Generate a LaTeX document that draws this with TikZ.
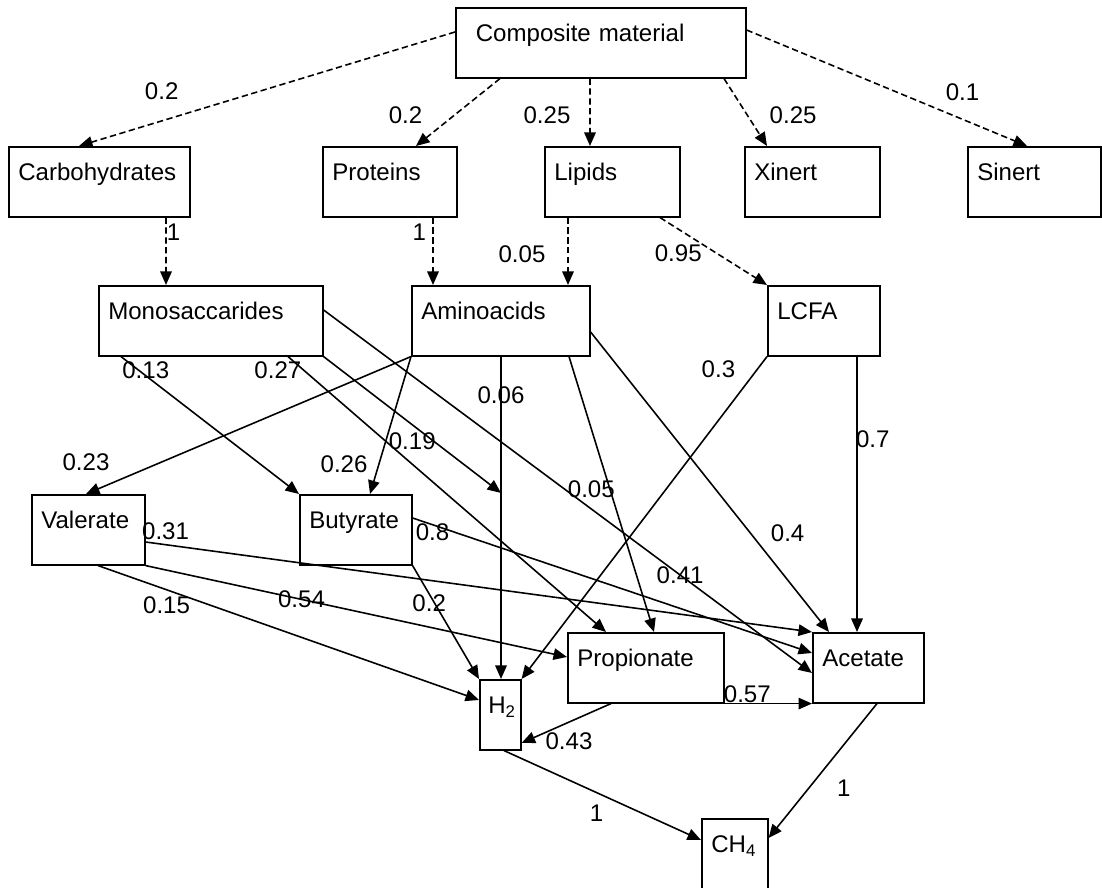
\documentclass[tikz,border=0pt]{standalone}
\usepackage{fontspec}
\setmainfont{Liberation Sans}
\usetikzlibrary{arrows.meta}

\begin{document}
\begin{tikzpicture}[
	every node/.style={font=\fontsize{13.7}{16}\selectfont},
	blk/.style={draw, rectangle, anchor=north west, text width=#1, align=left, inner xsep=0.19cm, inner ysep=0pt, text height=0.68cm, text depth=0.72cm, line width=0.9pt},
	arr/.style={line width=0.9pt, -{Triangle[length=0.27cm, width=0.23cm]}},
	dsh/.style={arr, dash pattern=on 3.6pt off 2pt},
	lbl/.style={inner sep=1pt}]
	\useasboundingbox (0,0) rectangle (22.04,-17.76);
	
	\node[blk=5.0cm, inner xsep=0.4cm, xshift=9.10cm, yshift=-0.14cm] (comp) {Composite material};
	
	\node[blk=3.24cm, xshift=0.16cm, yshift=-2.92cm] (carb) {Carbohydrates};
	\node[blk=2.30cm, xshift=6.44cm, yshift=-2.92cm] (prot) {Proteins};
	\node[blk=2.32cm, xshift=10.88cm, yshift=-2.92cm] (lip) {Lipids};
	\node[blk=2.32cm, xshift=14.88cm, yshift=-2.92cm] (xin) {Xinert};
	\node[blk=2.28cm, xshift=19.34cm, yshift=-2.92cm] (sin) {Sinert};
	
	\node[blk=4.10cm, xshift=1.96cm, yshift=-5.70cm] (mono) {Monosaccarides};
	\node[blk=3.18cm, xshift=8.22cm, yshift=-5.70cm] (amino) {Aminoacids};
	\node[blk=1.86cm, xshift=15.34cm, yshift=-5.70cm] (lcfa) {LCFA};
	
	\node[blk=1.88cm, xshift=0.62cm, yshift=-9.88cm] (val) {Valerate};
	\node[blk=1.86cm, xshift=5.98cm, yshift=-9.88cm] (buty) {Butyrate};
	
	\node[blk=2.74cm, xshift=11.34cm, yshift=-12.64cm] (prop) {Propionate};
	\node[blk=1.84cm, xshift=16.24cm, yshift=-12.64cm] (acet) {Acetate};
	\node[blk=0.48cm, inner xsep=0.17cm, xshift=9.58cm, yshift=-13.58cm] (h2) {H\textsubscript{2}};
	\node[blk=0.94cm, xshift=14.02cm, yshift=-16.36cm] (ch4) {CH\textsubscript{4}};
	
	% disintegration
	\draw[dsh] ([yshift=-0.5cm]comp.north west) -- node[lbl, pos=0.78, above=0.38cm] {0.2} ([xshift=1.42cm]carb.north west);
	\draw[dsh] ([xshift=0.9cm]comp.south west) -- node[lbl, pos=0.55, left=0.58cm] {0.2} ([xshift=1.88cm]prot.north west);
	\draw[dsh] ([xshift=2.7cm]comp.south west) -- node[lbl, pos=0.55, left=0.34cm] {0.25} ([xshift=0.92cm]lip.north west);
	\draw[dsh] ([xshift=5.38cm]comp.south west) -- node[lbl, pos=0.55, right=0.39cm] {0.25} ([xshift=0.46cm]xin.north west);
	\draw[dsh] ([yshift=-0.46cm]comp.north east) -- node[lbl, pos=0.77, above=0.33cm] {0.1} ([xshift=1.2cm]sin.north west);
	
	% hydrolysis
	\draw[dsh] ([xshift=3.16cm]carb.south west) -- node[lbl, pos=0.22, right=-1pt] {1} ([xshift=1.36cm]mono.north west);
	\draw[dsh] ([xshift=2.22cm]prot.south west) -- node[lbl, pos=0.22, left=2.5pt] {1} ([xshift=0.44cm]amino.north west);
	\draw[dsh] ([xshift=0.48cm]lip.south west) -- node[lbl, pos=0.54, left=0.4cm] {0.05} ([xshift=3.14cm]amino.north west);
	\draw[dsh] ([xshift=2.32cm]lip.south west) -- node[lbl, pos=0.53, left=0.25cm] {0.95} (lcfa.north west);
	
	% acidogenesis
	\draw[arr] ([xshift=0.46cm]mono.south west) -- node[lbl, pos=0.1, right=-0.38cm] {0.13} (buty.north west);
	\draw[arr] ([xshift=3.8cm]mono.south west) -- node[lbl, pos=0.05, left=0pt] {0.27} ([xshift=0.78cm]prop.north west);
	\draw[arr] ([xshift=1.8cm]amino.south west) -- coordinate[pos=0.423] (hjoin) node[lbl, pos=0.12] {0.06} ([xshift=0.44cm]h2.north west);
	\draw[arr] (mono.south east) -- node[lbl, pos=0.5, below=0.1cm] {0.19} (hjoin);
	\draw[arr] ([yshift=-0.5cm]mono.north east) -- node[lbl, pos=0.73] {0.41} ([yshift=-0.82cm]acet.north west);
	\draw[arr] (amino.south west) -- node[lbl, pos=1, above=0.42cm] {0.23} ([xshift=1.1cm]val.north west);
	\draw[arr] (amino.south west) -- node[lbl, pos=0.78, left=0.18cm] {0.26} ([xshift=1.42cm]buty.north west);
	\draw[arr] ([xshift=3.16cm]amino.south west) -- node[lbl, pos=0.48, left=-0.15cm] {0.05} ([xshift=1.74cm]prop.north west);
	\draw[arr] ([yshift=-0.94cm]amino.north east) -- node[lbl, pos=0.67, right=0.36cm] {0.4} ([xshift=0.34cm]acet.north west);
	\draw[arr] (lcfa.south west) -- node[lbl, pos=0.04, left=0.39cm] {0.3} (h2.north east);
	\draw[arr] ([xshift=1.8cm]lcfa.south west) -- node[lbl, pos=0.3, right=-2pt] {0.7} ([xshift=0.9cm]acet.north west);
	
	% acetogenesis
	\draw[arr] ([yshift=-0.96cm]val.north east) -- node[lbl, pos=0.03, above=0.05cm] {0.31} (acet.north west);
	\draw[arr] (val.south east) -- node[lbl, pos=0.37] {0.54} ([yshift=-0.5cm]prop.north west);
	\draw[arr] ([xshift=1.34cm]val.south west) -- node[lbl, pos=0.18, below=0.08cm] {0.15} ([yshift=-0.42cm]h2.north west);
	\draw[arr] ([yshift=-0.48cm]buty.north east) -- node[lbl, pos=0.05, below=-0.08cm] {0.8} ([yshift=-0.42cm]acet.north west);
	\draw[arr] (buty.south east) -- node[lbl, pos=0.33, left=-0.28cm] {0.2} (h2.north west);
	\draw[arr] ([xshift=0.88cm]prop.south west) -- node[lbl, pos=0.47, below=0.17cm] {0.43} ([yshift=-1.28cm]h2.north east);
	\draw[arr] (prop.south east) -- node[lbl, pos=0.26, above=-0.04cm] {0.57} (acet.south west);
	
	% methanogenesis
	\draw[arr] ([xshift=0.5cm]h2.south west) -- node[lbl, pos=0.47, below=0.2cm] {1} ([yshift=-0.44cm]ch4.north west);
	\draw[arr] ([xshift=1.3cm]acet.south west) -- node[lbl, pos=0.63, right=0.52cm] {1} ([yshift=-0.4cm]ch4.north east);
\end{tikzpicture}
\end{document}
